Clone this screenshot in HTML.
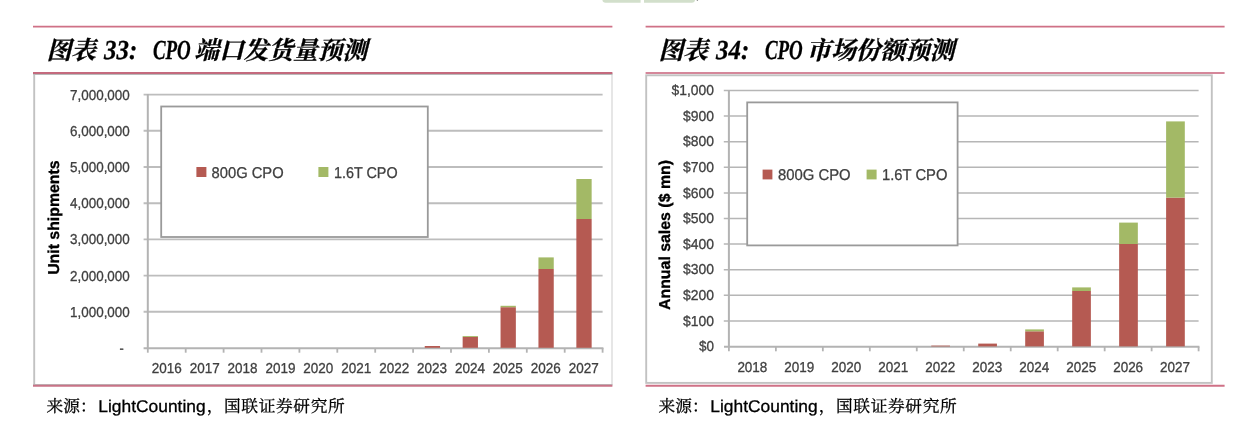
<!DOCTYPE html>
<html lang="zh-CN"><head><meta charset="utf-8"><title>CPO forecast charts</title>
<style>html,body{margin:0;padding:0;background:#fff}body{width:1260px;height:430px;overflow:hidden;font-family:"Liberation Sans",sans-serif}svg{display:block}text{font-family:"Liberation Sans",sans-serif;text-rendering:geometricPrecision;fill:#3f3f3f;stroke:#3f3f3f;stroke-width:0.3px}text.sf{font-family:"Liberation Serif",serif}text.k{fill:#000;stroke:#000}</style>
</head><body>
<svg width="1260" height="430" viewBox="0 0 1260 430" style="filter:blur(0.4px)">
<rect width="1260" height="430" fill="#fff"/>
<path d="M602.4 -2V-0.5a3.2 3.2 0 0 0 3.2 3.2H640.6V-2z" fill="#d2dfcb"/>
<path d="M644 -2V2.7H691.8a3.2 3.2 0 0 0 3.2 -3.2V-2z" fill="#d2dfcb"/>
<circle cx="697.4" cy="0.4" r="0.7" fill="#9a9a9a"/>
<line x1="34.2" y1="73.5" x2="34.2" y2="385.2" stroke="#c2c2c2" stroke-width="1.9"/>
<line x1="612" y1="73.5" x2="612" y2="385.2" stroke="#d6d6d6" stroke-width="1.2"/>
<line x1="33.3" y1="74.3" x2="612.4" y2="74.3" stroke="#b9b9b9" stroke-width="1.4"/>
<line x1="33.3" y1="384.6" x2="612.4" y2="384.6" stroke="#bdbdbd" stroke-width="1.4"/>
<line x1="143.6" y1="311.8" x2="602.6" y2="311.8" stroke="#bdbdbd" stroke-width="1.9"/>
<line x1="143.6" y1="275.6" x2="602.6" y2="275.6" stroke="#bdbdbd" stroke-width="1.9"/>
<line x1="143.6" y1="239.4" x2="602.6" y2="239.4" stroke="#bdbdbd" stroke-width="1.9"/>
<line x1="143.6" y1="203.2" x2="602.6" y2="203.2" stroke="#bdbdbd" stroke-width="1.9"/>
<line x1="143.6" y1="167" x2="602.6" y2="167" stroke="#bdbdbd" stroke-width="1.9"/>
<line x1="143.6" y1="130.8" x2="602.6" y2="130.8" stroke="#bdbdbd" stroke-width="1.9"/>
<line x1="143.6" y1="94.6" x2="602.6" y2="94.6" stroke="#bdbdbd" stroke-width="1.9"/>
<line x1="147.8" y1="94" x2="147.8" y2="348.5" stroke="#b3b3b3" stroke-width="2"/>
<line x1="143.6" y1="348.2" x2="603.4" y2="348.2" stroke="#b3b3b3" stroke-width="2"/>
<line x1="147.8" y1="348" x2="147.8" y2="352.7" stroke="#b3b3b3" stroke-width="1.8"/>
<line x1="185.7" y1="348" x2="185.7" y2="352.7" stroke="#b3b3b3" stroke-width="1.8"/>
<line x1="223.6" y1="348" x2="223.6" y2="352.7" stroke="#b3b3b3" stroke-width="1.8"/>
<line x1="261.5" y1="348" x2="261.5" y2="352.7" stroke="#b3b3b3" stroke-width="1.8"/>
<line x1="299.4" y1="348" x2="299.4" y2="352.7" stroke="#b3b3b3" stroke-width="1.8"/>
<line x1="337.3" y1="348" x2="337.3" y2="352.7" stroke="#b3b3b3" stroke-width="1.8"/>
<line x1="375.2" y1="348" x2="375.2" y2="352.7" stroke="#b3b3b3" stroke-width="1.8"/>
<line x1="413.1" y1="348" x2="413.1" y2="352.7" stroke="#b3b3b3" stroke-width="1.8"/>
<line x1="451" y1="348" x2="451" y2="352.7" stroke="#b3b3b3" stroke-width="1.8"/>
<line x1="488.9" y1="348" x2="488.9" y2="352.7" stroke="#b3b3b3" stroke-width="1.8"/>
<line x1="526.8" y1="348" x2="526.8" y2="352.7" stroke="#b3b3b3" stroke-width="1.8"/>
<line x1="564.7" y1="348" x2="564.7" y2="352.7" stroke="#b3b3b3" stroke-width="1.8"/>
<line x1="602.6" y1="348" x2="602.6" y2="352.7" stroke="#b3b3b3" stroke-width="1.8"/>
<rect x="424.75" y="346" width="15.3" height="1.8" fill="#b55a52"/>
<rect x="462.65" y="336.9" width="15.3" height="10.9" fill="#b55a52"/>
<rect x="462.65" y="336" width="15.3" height="0.9" fill="#a3b966"/>
<rect x="500.55" y="307.2" width="15.3" height="40.6" fill="#b55a52"/>
<rect x="500.55" y="305.8" width="15.3" height="1.4" fill="#a3b966"/>
<rect x="538.45" y="269" width="15.3" height="78.8" fill="#b55a52"/>
<rect x="538.45" y="257.4" width="15.3" height="11.6" fill="#a3b966"/>
<rect x="576.35" y="219" width="15.3" height="128.8" fill="#b55a52"/>
<rect x="576.35" y="179" width="15.3" height="40" fill="#a3b966"/>
<text x="129.8" y="316.7" font-size="14.4" text-anchor="end" textLength="59.8" lengthAdjust="spacingAndGlyphs">1,000,000</text>
<text x="129.8" y="280.5" font-size="14.4" text-anchor="end" textLength="59.8" lengthAdjust="spacingAndGlyphs">2,000,000</text>
<text x="129.8" y="244.3" font-size="14.4" text-anchor="end" textLength="59.8" lengthAdjust="spacingAndGlyphs">3,000,000</text>
<text x="129.8" y="208.1" font-size="14.4" text-anchor="end" textLength="59.8" lengthAdjust="spacingAndGlyphs">4,000,000</text>
<text x="129.8" y="171.9" font-size="14.4" text-anchor="end" textLength="59.8" lengthAdjust="spacingAndGlyphs">5,000,000</text>
<text x="129.8" y="135.7" font-size="14.4" text-anchor="end" textLength="59.8" lengthAdjust="spacingAndGlyphs">6,000,000</text>
<text x="129.8" y="99.5" font-size="14.4" text-anchor="end" textLength="59.8" lengthAdjust="spacingAndGlyphs">7,000,000</text>
<text x="123.8" y="353.1" font-size="14.4" text-anchor="end" textLength="4.2" lengthAdjust="spacingAndGlyphs">-</text>
<text x="151.75" y="372.5" font-size="14.4" textLength="30" lengthAdjust="spacingAndGlyphs">2016</text>
<text x="189.65" y="372.5" font-size="14.4" textLength="30" lengthAdjust="spacingAndGlyphs">2017</text>
<text x="227.55" y="372.5" font-size="14.4" textLength="30" lengthAdjust="spacingAndGlyphs">2018</text>
<text x="265.45" y="372.5" font-size="14.4" textLength="30" lengthAdjust="spacingAndGlyphs">2019</text>
<text x="303.35" y="372.5" font-size="14.4" textLength="30" lengthAdjust="spacingAndGlyphs">2020</text>
<text x="341.25" y="372.5" font-size="14.4" textLength="30" lengthAdjust="spacingAndGlyphs">2021</text>
<text x="379.15" y="372.5" font-size="14.4" textLength="30" lengthAdjust="spacingAndGlyphs">2022</text>
<text x="417.05" y="372.5" font-size="14.4" textLength="30" lengthAdjust="spacingAndGlyphs">2023</text>
<text x="454.95" y="372.5" font-size="14.4" textLength="30" lengthAdjust="spacingAndGlyphs">2024</text>
<text x="492.85" y="372.5" font-size="14.4" textLength="30" lengthAdjust="spacingAndGlyphs">2025</text>
<text x="530.75" y="372.5" font-size="14.4" textLength="30" lengthAdjust="spacingAndGlyphs">2026</text>
<text x="568.65" y="372.5" font-size="14.4" textLength="30" lengthAdjust="spacingAndGlyphs">2027</text>
<text x="58.6" y="217.6" font-size="15.8" class="k" text-anchor="middle" textLength="114.5" lengthAdjust="spacingAndGlyphs" font-weight="bold" transform="rotate(-90 58.6 217.6)">Unit shipments</text>
<rect x="161.2" y="106.5" width="266.6" height="130.5" fill="#fff" stroke="#9a9a9a" stroke-width="1.8"/>
<rect x="196.4" y="167" width="10" height="10" fill="#b55a52"/>
<rect x="318.4" y="167" width="10" height="10" fill="#a3b966"/>
<text x="211.6" y="177.6" font-size="15.6" textLength="72" lengthAdjust="spacingAndGlyphs">800G CPO</text>
<text x="334" y="177.6" font-size="15.6" textLength="63.6" lengthAdjust="spacingAndGlyphs">1.6T CPO</text>
<rect x="646.2" y="75.3" width="565.6" height="307.6" fill="none" stroke="#c2c2c2" stroke-width="1.9"/>
<line x1="723.8" y1="320.98" x2="1198.6" y2="320.98" stroke="#b6b6b6" stroke-width="1.5"/>
<line x1="723.8" y1="295.36" x2="1198.6" y2="295.36" stroke="#b6b6b6" stroke-width="1.5"/>
<line x1="723.8" y1="269.74" x2="1198.6" y2="269.74" stroke="#b6b6b6" stroke-width="1.5"/>
<line x1="723.8" y1="244.12" x2="1198.6" y2="244.12" stroke="#b6b6b6" stroke-width="1.5"/>
<line x1="723.8" y1="218.5" x2="1198.6" y2="218.5" stroke="#b6b6b6" stroke-width="1.5"/>
<line x1="723.8" y1="192.88" x2="1198.6" y2="192.88" stroke="#b6b6b6" stroke-width="1.5"/>
<line x1="723.8" y1="167.26" x2="1198.6" y2="167.26" stroke="#b6b6b6" stroke-width="1.5"/>
<line x1="723.8" y1="141.64" x2="1198.6" y2="141.64" stroke="#b6b6b6" stroke-width="1.5"/>
<line x1="723.8" y1="116.02" x2="1198.6" y2="116.02" stroke="#b6b6b6" stroke-width="1.5"/>
<line x1="723.8" y1="90.4" x2="1198.6" y2="90.4" stroke="#b6b6b6" stroke-width="1.5"/>
<line x1="728.9" y1="89.9" x2="728.9" y2="347.1" stroke="#b3b3b3" stroke-width="2"/>
<line x1="724" y1="346.8" x2="1199.4" y2="346.8" stroke="#b3b3b3" stroke-width="2"/>
<line x1="728.9" y1="346.6" x2="728.9" y2="351.3" stroke="#b3b3b3" stroke-width="1.8"/>
<line x1="775.87" y1="346.6" x2="775.87" y2="351.3" stroke="#b3b3b3" stroke-width="1.8"/>
<line x1="822.84" y1="346.6" x2="822.84" y2="351.3" stroke="#b3b3b3" stroke-width="1.8"/>
<line x1="869.81" y1="346.6" x2="869.81" y2="351.3" stroke="#b3b3b3" stroke-width="1.8"/>
<line x1="916.78" y1="346.6" x2="916.78" y2="351.3" stroke="#b3b3b3" stroke-width="1.8"/>
<line x1="963.75" y1="346.6" x2="963.75" y2="351.3" stroke="#b3b3b3" stroke-width="1.8"/>
<line x1="1010.72" y1="346.6" x2="1010.72" y2="351.3" stroke="#b3b3b3" stroke-width="1.8"/>
<line x1="1057.69" y1="346.6" x2="1057.69" y2="351.3" stroke="#b3b3b3" stroke-width="1.8"/>
<line x1="1104.66" y1="346.6" x2="1104.66" y2="351.3" stroke="#b3b3b3" stroke-width="1.8"/>
<line x1="1151.63" y1="346.6" x2="1151.63" y2="351.3" stroke="#b3b3b3" stroke-width="1.8"/>
<line x1="1198.6" y1="346.6" x2="1198.6" y2="351.3" stroke="#b3b3b3" stroke-width="1.8"/>
<rect x="931.26" y="345.6" width="18.7" height="0.8" fill="#b55a52"/>
<rect x="978.23" y="343.6" width="18.7" height="2.8" fill="#b55a52"/>
<rect x="1025.2" y="331.3" width="18.7" height="15.1" fill="#b55a52"/>
<rect x="1025.2" y="329.4" width="18.7" height="1.9" fill="#a3b966"/>
<rect x="1072.17" y="291" width="18.7" height="55.4" fill="#b55a52"/>
<rect x="1072.17" y="287.4" width="18.7" height="3.6" fill="#a3b966"/>
<rect x="1119.14" y="244" width="18.7" height="102.4" fill="#b55a52"/>
<rect x="1119.14" y="222.6" width="18.7" height="21.4" fill="#a3b966"/>
<rect x="1166.11" y="197.6" width="18.7" height="148.8" fill="#b55a52"/>
<rect x="1166.11" y="121.4" width="18.7" height="76.2" fill="#a3b966"/>
<text x="714" y="351.3" font-size="14.4" text-anchor="end" textLength="15" lengthAdjust="spacingAndGlyphs">$0</text>
<text x="714" y="325.68" font-size="14.4" text-anchor="end" textLength="31" lengthAdjust="spacingAndGlyphs">$100</text>
<text x="714" y="300.06" font-size="14.4" text-anchor="end" textLength="31" lengthAdjust="spacingAndGlyphs">$200</text>
<text x="714" y="274.44" font-size="14.4" text-anchor="end" textLength="31" lengthAdjust="spacingAndGlyphs">$300</text>
<text x="714" y="248.82" font-size="14.4" text-anchor="end" textLength="31" lengthAdjust="spacingAndGlyphs">$400</text>
<text x="714" y="223.2" font-size="14.4" text-anchor="end" textLength="31" lengthAdjust="spacingAndGlyphs">$500</text>
<text x="714" y="197.58" font-size="14.4" text-anchor="end" textLength="31" lengthAdjust="spacingAndGlyphs">$600</text>
<text x="714" y="171.96" font-size="14.4" text-anchor="end" textLength="31" lengthAdjust="spacingAndGlyphs">$700</text>
<text x="714" y="146.34" font-size="14.4" text-anchor="end" textLength="31" lengthAdjust="spacingAndGlyphs">$800</text>
<text x="714" y="120.72" font-size="14.4" text-anchor="end" textLength="31" lengthAdjust="spacingAndGlyphs">$900</text>
<text x="714" y="95.1" font-size="14.4" text-anchor="end" textLength="42.4" lengthAdjust="spacingAndGlyphs">$1,000</text>
<text x="737.38" y="371.5" font-size="14.4" textLength="30" lengthAdjust="spacingAndGlyphs">2018</text>
<text x="784.36" y="371.5" font-size="14.4" textLength="30" lengthAdjust="spacingAndGlyphs">2019</text>
<text x="831.32" y="371.5" font-size="14.4" textLength="30" lengthAdjust="spacingAndGlyphs">2020</text>
<text x="878.29" y="371.5" font-size="14.4" textLength="30" lengthAdjust="spacingAndGlyphs">2021</text>
<text x="925.26" y="371.5" font-size="14.4" textLength="30" lengthAdjust="spacingAndGlyphs">2022</text>
<text x="972.23" y="371.5" font-size="14.4" textLength="30" lengthAdjust="spacingAndGlyphs">2023</text>
<text x="1019.2" y="371.5" font-size="14.4" textLength="30" lengthAdjust="spacingAndGlyphs">2024</text>
<text x="1066.17" y="371.5" font-size="14.4" textLength="30" lengthAdjust="spacingAndGlyphs">2025</text>
<text x="1113.14" y="371.5" font-size="14.4" textLength="30" lengthAdjust="spacingAndGlyphs">2026</text>
<text x="1160.11" y="371.5" font-size="14.4" textLength="30" lengthAdjust="spacingAndGlyphs">2027</text>
<text x="669.8" y="235" font-size="15.8" class="k" text-anchor="middle" textLength="150" lengthAdjust="spacingAndGlyphs" font-weight="bold" transform="rotate(-90 669.8 235)">Annual sales ($ mn)</text>
<rect x="747.2" y="102.4" width="210.4" height="143" fill="#fff" stroke="#9a9a9a" stroke-width="1.8"/>
<rect x="762.6" y="169.6" width="9.8" height="9.8" fill="#b55a52"/>
<rect x="866.6" y="169.6" width="10" height="9.8" fill="#a3b966"/>
<text x="778" y="179.6" font-size="15.6" textLength="72.6" lengthAdjust="spacingAndGlyphs">800G CPO</text>
<text x="882" y="179.6" font-size="15.6" textLength="65.4" lengthAdjust="spacingAndGlyphs">1.6T CPO</text>
<line x1="33" y1="26.6" x2="612.4" y2="26.6" stroke="#cf7186" stroke-width="1.6"/>
<line x1="33" y1="73" x2="612.4" y2="73" stroke="#c46a7e" stroke-width="2.2"/>
<line x1="33" y1="385.7" x2="612.4" y2="385.7" stroke="#c87387" stroke-width="2.1"/>
<line x1="645.6" y1="26.6" x2="1224.6" y2="26.6" stroke="#cf7186" stroke-width="1.6"/>
<line x1="645.6" y1="73" x2="1224.6" y2="73" stroke="#d5879a" stroke-width="2.1"/>
<line x1="645.6" y1="385.8" x2="1224.6" y2="385.8" stroke="#cf7186" stroke-width="2"/>
<text x="46.4" y="58.6" font-size="24.8" class="k" style="font-family:'Liberation Serif','Noto Serif CJK SC',serif" font-weight="bold" font-style="italic" textLength="49.4" lengthAdjust="spacing">图表</text>
<text x="104.1" y="58.6" font-size="27.5" class="sf k" textLength="33.2" lengthAdjust="spacingAndGlyphs" font-weight="bold" font-style="italic">33:</text>
<text x="152.9" y="58.6" font-size="27.5" class="sf k" textLength="37.8" lengthAdjust="spacingAndGlyphs" font-weight="bold" font-style="italic">CPO</text>
<text x="194.2" y="58.6" font-size="24.8" class="k" style="font-family:'Liberation Serif','Noto Serif CJK SC',serif" font-weight="bold" font-style="italic" textLength="172.9" lengthAdjust="spacing">端口发货量预测</text>
<text x="658.4" y="58.6" font-size="24.8" class="k" style="font-family:'Liberation Serif','Noto Serif CJK SC',serif" font-weight="bold" font-style="italic" textLength="49.4" lengthAdjust="spacing">图表</text>
<text x="716.1" y="58.6" font-size="27.5" class="sf k" textLength="33.2" lengthAdjust="spacingAndGlyphs" font-weight="bold" font-style="italic">34:</text>
<text x="764.9" y="58.6" font-size="27.5" class="sf k" textLength="37.8" lengthAdjust="spacingAndGlyphs" font-weight="bold" font-style="italic">CPO</text>
<text x="806.2" y="58.6" font-size="24.8" class="k" style="font-family:'Liberation Serif','Noto Serif CJK SC',serif" font-weight="bold" font-style="italic" textLength="148.2" lengthAdjust="spacing">市场份额预测</text>
<text x="46.57" y="411.5" font-size="16.7" class="k" style="font-family:'Liberation Serif','Noto Serif CJK SC',serif">来源：</text>
<text x="98.3" y="411.6" font-size="17" class="k" textLength="107.3" lengthAdjust="spacingAndGlyphs">LightCounting</text>
<text x="206.67" y="411.5" font-size="16.7" class="k" style="font-family:'Liberation Serif','Noto Serif CJK SC',serif" textLength="138" lengthAdjust="spacing">，国联证券研究所</text>
<text x="658.57" y="411.5" font-size="16.7" class="k" style="font-family:'Liberation Serif','Noto Serif CJK SC',serif">来源：</text>
<text x="710.3" y="411.6" font-size="17" class="k" textLength="107.3" lengthAdjust="spacingAndGlyphs">LightCounting</text>
<text x="818.67" y="411.5" font-size="16.7" class="k" style="font-family:'Liberation Serif','Noto Serif CJK SC',serif" textLength="138" lengthAdjust="spacing">，国联证券研究所</text>
</svg></body></html>
